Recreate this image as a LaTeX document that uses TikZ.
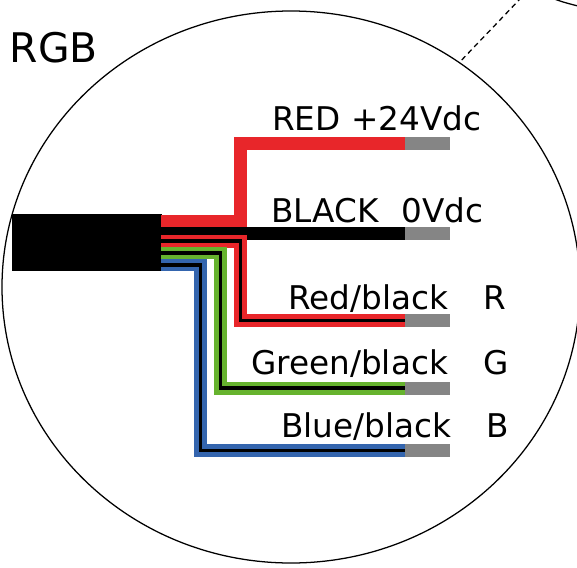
\documentclass[tikz,border=0pt]{standalone}
\usepackage{fontspec}
\setmainfont{DejaVu Sans}
\definecolor{wred}{HTML}{E8262A}
\definecolor{wgreen}{HTML}{66B32E}
\definecolor{wblue}{HTML}{3465AE}
\definecolor{wgray}{HTML}{858585}
\tikzset{
  wire/.style={line width=9.5pt,line join=miter,line cap=butt},
  core/.style={line width=2.7pt,black,line join=miter,line cap=butt},
  stub/.style={fill=wgray,draw=none,inner sep=0pt,minimum width=33.4pt,minimum height=9.6pt,anchor=west},
  lab/.style={inner sep=0pt,anchor=base west,font=\fontsize{24.5}{29}\selectfont,text=black},
  outline/.style={line width=0.95pt,black},
  cablebody/.style={fill=black,draw=none,inner sep=0pt,minimum width=112.2pt,minimum height=42.7pt,anchor=north west}
}
\begin{document}
\begin{tikzpicture}[x=0.75pt,y=-0.75pt]
\useasboundingbox (0,0) rectangle (577,567);
\clip (0,0) rectangle (577,567);
\draw[outline] (291,287) ellipse [x radius=289,y radius=276];
\coordinate (arcA) at (552,-2);
\coordinate (arcB) at (580,6.5);
\draw[outline] (arcA) .. controls (560,1.5) and (570,4) .. (arcB);
\coordinate (dashA) at (461.7,60);
\coordinate (dashB) at (520,-1);
\draw[line width=0.95pt,black,dash pattern=on 3.9pt off 2.9pt] (dashA) -- (dashB);
\node[inner sep=0pt,anchor=base west,font=\fontsize{30.6}{36}\selectfont] (title) at (9.5,62.7) {RGB};
\node[cablebody] (cable) at (12,214) {};
\node[stub] (s1) at (404.8,143.5) {};
\node[stub] (s2) at (404.8,233.5) {};
\node[stub] (s3) at (404.8,320.3) {};
\node[stub] (s4) at (404.8,388.2) {};
\node[stub] (s5) at (404.8,450.6) {};
\coordinate (c1) at (161,221);
\coordinate (c2) at (161,231);
\coordinate (j2) at (251,231);
\coordinate (j3) at (246,233.5);
\coordinate (c3) at (161,241.2);
\coordinate (c4) at (161,253);
\coordinate (c5) at (161,265);
\coordinate (e1) at (240.5,180);
\coordinate (e3) at (240.5,280);
\coordinate (e4) at (220.3,320);
\coordinate (e5) at (200.3,360);
\draw[wire,wred] (c1) -| (e1) |- (s1.west);
\draw[line width=6.7pt,black] (c2) -- (j2);
\draw[wire,black] (j3) -- (s2.west);
\draw[wire,wred] (c3) -| (e3) |- (s3.west);
\draw[core] (c3) -| (e3) |- (s3.west);
\draw[wire,wgreen] (c4) -| (e4) |- (s4.west);
\draw[core] (c4) -| (e4) |- (s4.west);
\draw[wire,wblue] (c5) -| (e5) |- (s5.west);
\draw[core] (c5) -| (e5) |- (s5.west);
\node[lab] (l1) at (272,130) {RED +24Vdc};
\node[lab] (l2) at (271,222.5) {BLACK\hspace{0.70em}0Vdc};
\node[lab] (l3) at (288,309.5) {Red/black};
\node[lab] (l3b) at (483,309.5) {R};
\node[lab] (l4) at (251,374) {Green/black};
\node[lab] (l4b) at (483,374) {G};
\node[lab] (l5) at (281,437) {Blue/black};
\node[lab] (l5b) at (486,437) {B};
\end{tikzpicture}
\end{document}
